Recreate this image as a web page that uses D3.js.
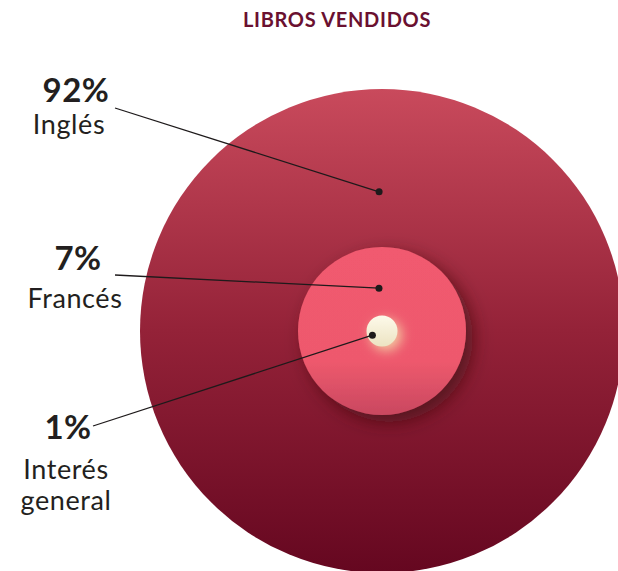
<!DOCTYPE html>
<html>
<head>
<meta charset="utf-8">
<script src="https://cdn.jsdelivr.net/npm/d3@7"></script>
<style>
  html, body { margin: 0; padding: 0; background: #fff; }
  svg { display: block; font-family: Lato, "Open Sans", sans-serif; }
  .pct { font-weight: 700; fill: #231f20; }
  .lbl { font-weight: 400; fill: #231f20; }
</style>
</head>
<body>
<div id="chart"></div>
<script>
const title = "LIBROS VENDIDOS";
const categories = ["Inglés", "Francés", "Interés general"];
const shares = [92, 7, 1];

const width = 618, height = 571;
const cx = 382, cy = 331;

const svg = d3.select("#chart").append("svg")
    .attr("width", width)
    .attr("height", height);

const defs = svg.append("defs");

// gradients
const gBig = defs.append("linearGradient").attr("id", "gBig")
    .attr("x1", 0).attr("y1", 0).attr("x2", 0).attr("y2", 1);
gBig.append("stop").attr("offset", "0%").attr("stop-color", "#c94a5c");
gBig.append("stop").attr("offset", "50%").attr("stop-color", "#942238");
gBig.append("stop").attr("offset", "100%").attr("stop-color", "#650720");

const gMid = defs.append("linearGradient").attr("id", "gMid")
    .attr("x1", 0).attr("y1", 0).attr("x2", 0).attr("y2", 1);
gMid.append("stop").attr("offset", "0%").attr("stop-color", "#f15a6f");
gMid.append("stop").attr("offset", "68%").attr("stop-color", "#ee596d");
gMid.append("stop").attr("offset", "100%").attr("stop-color", "#c94860");

const gSmall = defs.append("linearGradient").attr("id", "gSmall")
    .attr("x1", 0).attr("y1", 0).attr("x2", 0).attr("y2", 1);
gSmall.append("stop").attr("offset", "0%").attr("stop-color", "#fdfaea");
gSmall.append("stop").attr("offset", "100%").attr("stop-color", "#ece3c2");

// shadow for middle circle, glow for small one
const fShadow = defs.append("filter").attr("id", "shadow")
    .attr("x", "-30%").attr("y", "-30%").attr("width", "160%").attr("height", "160%");
fShadow.append("feDropShadow").attr("dx", 7).attr("dy", 7).attr("stdDeviation", 9)
    .attr("flood-color", "#3a0812").attr("flood-opacity", 0.65);

const fGlow = defs.append("filter").attr("id", "glow")
    .attr("x", "-100%").attr("y", "-100%").attr("width", "300%").attr("height", "300%");
fGlow.append("feDropShadow").attr("dx", 4).attr("dy", 4).attr("stdDeviation", 6)
    .attr("flood-color", "#f3d7a8").attr("flood-opacity", 0.9);

// radius scale (piecewise so the nested discs keep the reference's look)
const r = d3.scaleSqrt().domain([1, 7, 92]).range([15.5, 84, 242]);

const fills = ["url(#gBig)", "url(#gMid)", "url(#gSmall)"];
const filters = [null, "url(#shadow)", "url(#glow)"];

const data = categories.map((c, i) => ({ name: c, value: shares[i], fill: fills[i], filter: filters[i] }));

svg.selectAll("circle.disc")
    .data(data)
    .enter()
    .append("circle")
    .attr("class", "disc")
    .attr("cx", cx)
    .attr("cy", cy)
    .attr("r", d => r(d.value))
    .attr("fill", d => d.fill)
    .attr("filter", d => d.filter);

// annotation anchors, relative to each disc radius
const anchorDir = [[-0.012, -0.575], [-0.036, -0.51], [-0.62, 0.27]];
const labelPos = [
    { x: 76, lineX: 115, lineY: 108, pctY: 102, lblY: [134], lblX: 69 },
    { x: 78, lineX: 115, lineY: 275, pctY: 270, lblY: [308], lblX: 75 },
    { x: 68, lineX: 93, lineY: 426, pctY: 439, lblY: [479, 510], lblX: 66 }
];

data.forEach((d, i) => {
    const rr = r(d.value);
    const ax = cx + anchorDir[i][0] * rr;
    const ay = cy + anchorDir[i][1] * rr;
    const lp = labelPos[i];

    svg.append("line")
        .attr("x1", lp.lineX).attr("y1", lp.lineY)
        .attr("x2", ax).attr("y2", ay)
        .attr("stroke", "#1e1a1b")
        .attr("stroke-width", 1.3);

    svg.append("circle")
        .attr("cx", ax).attr("cy", ay).attr("r", 3.5)
        .attr("fill", "#1e1a1b");

    svg.append("text")
        .attr("class", "pct")
        .attr("x", lp.x).attr("y", lp.pctY)
        .attr("text-anchor", "middle")
        .style("font-size", "33px")
        .style("letter-spacing", "0.5px")
        .text(d.value + "%");

    const words = i === 2 ? ["Interés", "general"] : [d.name];
    words.forEach((w, k) => {
        svg.append("text")
            .attr("class", "lbl")
            .attr("x", lp.lblX)
            .attr("y", lp.lblY[k])
            .attr("text-anchor", "middle")
            .style("font-size", "27px")
            .style("letter-spacing", "0.6px")
            .text(w);
    });
});

svg.append("text")
    .attr("x", 337)
    .attr("y", 27)
    .attr("text-anchor", "middle")
    .style("font-size", "20px")
    .style("font-weight", 700)
    .style("letter-spacing", "0.7px")
    .attr("fill", "#6a1030")
    .text(title);
</script>
</body>
</html>
